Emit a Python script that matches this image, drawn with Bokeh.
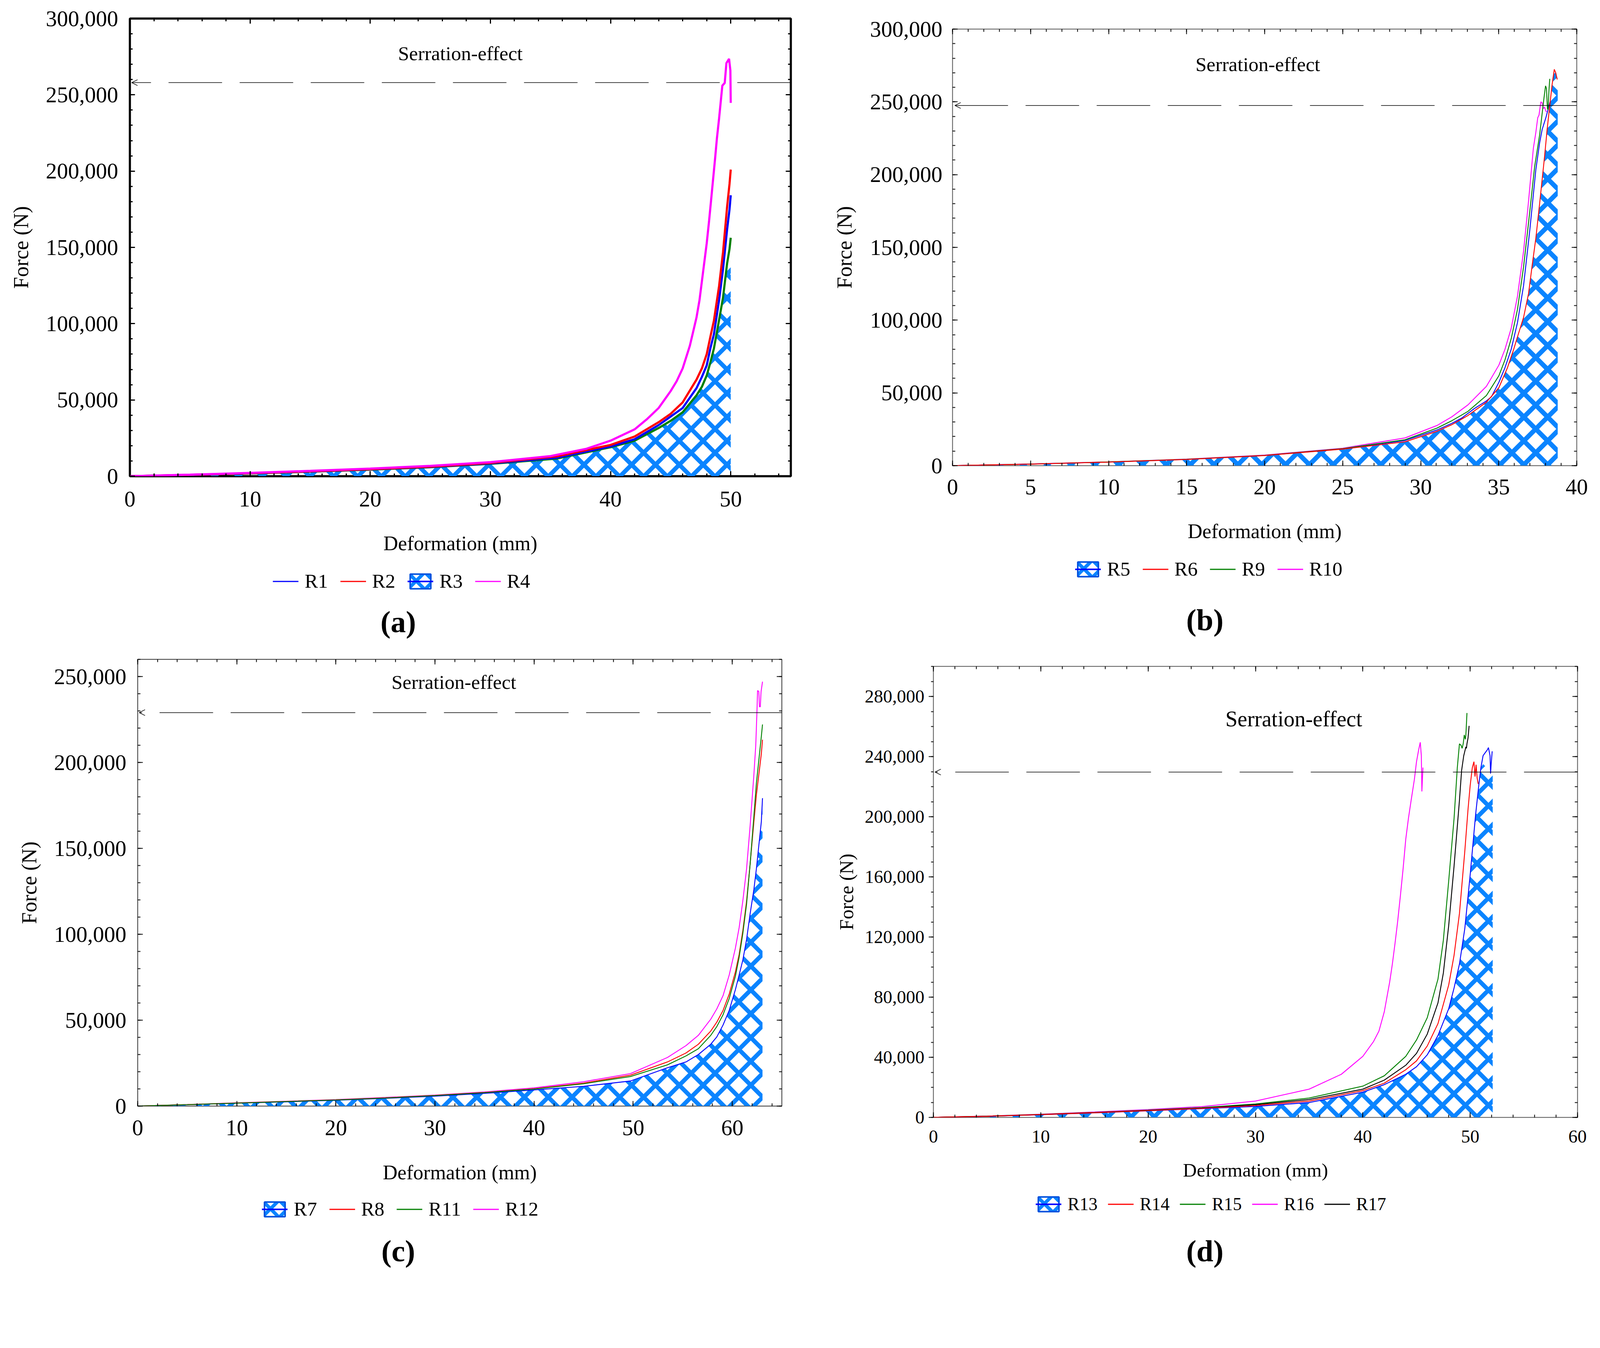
from bokeh.plotting import figure
from bokeh.models import (Range1d, FixedTicker, NumeralTickFormatter, LinearAxis,
                          Legend, LegendItem, Label, Arrow, OpenHead)
from bokeh.layouts import column, row
from bokeh.embed import file_html
from bokeh.resources import INLINE

FONT = "Liberation Serif"
HATCH = "#0A84FF"
BOX = "#0050DD"
BLUE, RED, GREEN, MAGENTA, BLACK = "#0000FF", "#FF0000", "#008000", "#FF00FF", "#000000"
NAN = float("nan")

# ---------------- Panel (a) data ----------------
A_X = [0, 5, 10, 15, 20, 25, 30, 35.5, 40, 42, 44, 45, 46, 47.15, 47.6, 48, 48.3, 48.6, 49.03, 49.36,
       49.7, 49.9, 50.0]
R1_Y = [0, 850, 1900, 3100, 4500, 6100, 8400, 12100, 19500, 24200, 33500, 39100, 44700, 57700, 65100,
        72600, 83700, 93000, 115400, 135900, 161900, 175000, 184200]
R2_Y = [0, 900, 2000, 3200, 4600, 6300, 8700, 13000, 20500, 26000, 35400, 40900, 48400, 63300, 70700,
        80000, 91200, 102000, 124700, 147000, 176800, 191700, 201000]
R3_LINE_Y = [0, 800, 1800, 3000, 4300, 5900, 8100, 11500, 19000, 23300, 31600, 36300, 41900, 53000, 58600,
             66000, 74400, 83700, 102400, 117200, 139600, 149000, 156300]
R3_AREA_Y = [0, 800, 1800, 3000, 4300, 5900, 8100, 11500, 19000, 23300, 31600, 36300, 41900, 53000, 58600,
             66000, 74400, 83700, 102400, 117200, 135000, 140000, 143000]
R4_X = [0, 5, 10, 15, 20, 25, 30, 35, 38, 40, 42, 43, 44, 45, 45.5, 46, 46.6, 47.15, 47.4, 47.7, 48,
        48.2, 48.36, 48.7, 48.85, 49.03, 49.3, 49.5, 49.64, 49.86, 49.97, 50.0]
R4_Y = [0, 1000, 2200, 3500, 5000, 6800, 9200, 13200, 18000, 23300, 30700, 37200, 44700, 55800, 62300,
        70700, 85600, 104000, 115400, 134000, 152600, 167500, 180500, 208400, 221500, 234500, 256000,
        257800, 270800, 273600, 266000, 244700]

# ---------------- Panel (b) data ----------------
R5_X = [0, 5, 10, 15, 20, 25, 29, 30.01, 31.04, 32, 32.63, 33.42, 34.21, 34.53, 35.01, 35.4, 35.8, 36.2,
        36.59, 36.99, 37.38, 37.62, 37.78, 38.02, 38.29]
R5_Y = [0, 1100, 2500, 4300, 7000, 11500, 17300, 20900, 24500, 29100, 32700, 39100, 44500, 47300, 57300,
        67300, 80000, 98200, 123600, 161800, 203600, 221800, 230900, 239100, 250000]
R5_AREA_X = [0, 5, 10, 15, 20, 25, 29, 31.04, 32, 33.03, 34.21, 35.01, 35.56, 35.96, 36.27, 36.59, 36.91,
             37.15, 37.38, 37.62, 37.78, 37.94, 38.1, 38.26, 38.42, 38.56, 38.65, 38.78]
R5_AREA_Y = [0, 1000, 2400, 4200, 6900, 11300, 16300, 23400, 28000, 34300, 43400, 53400, 67000, 79600,
             90500, 101400, 117800, 137800, 156000, 179600, 196000, 212300, 230500, 246000, 261400,
             271800, 269500, 266000]
R6_X = [0, 5, 10, 15, 20, 25, 29, 31.04, 32, 33.03, 34.21, 35.01, 35.56, 35.96, 36.27, 36.59, 36.91,
        37.15, 37.38, 37.62, 37.78, 37.94, 38.1, 38.26, 38.42, 38.56, 38.65, 38.75]
R6_Y = [0, 1050, 2450, 4250, 6950, 11400, 16400, 23600, 28200, 34500, 43600, 53600, 67300, 80000, 90900,
        101800, 118200, 138200, 156400, 180000, 196400, 212700, 230900, 246400, 261800, 272300, 270000,
        265400]
R9_X = [0, 5, 10, 15, 20, 25, 29, 31.04, 32, 33.03, 34.21, 35.01, 35.4, 35.8, 36.2, 36.59, 36.99, 37.3,
        37.46, 37.62, 37.78, 37.9, 38.0, 38.06, 38.12, 38.16, 38.22, 38.27]
R9_Y = [0, 1100, 2550, 4400, 7100, 11700, 17800, 25800, 30900, 37300, 48200, 61800, 72700, 87300, 107300,
        136400, 174500, 205400, 216300, 227200, 241800, 252700, 261000, 259100, 245400, 244600, 258100,
        265800]
R10_X = [0, 5, 10, 15, 20, 25, 29, 31.04, 32, 33.03, 34.21, 35.01, 35.4, 35.8, 36.2, 36.59, 36.91, 37.22,
         37.38, 37.5, 37.58, 37.7, 37.78, 37.86, 37.94, 38.02, 38.08]
R10_Y = [0, 1150, 2600, 4500, 7300, 12000, 19100, 27600, 33600, 41800, 54500, 69100, 80000, 94500,
         116400, 147300, 181800, 218200, 229100, 239100, 240900, 250000, 249400, 245400, 246400, 243600,
         243200]

# ---------------- Panel (c) data ----------------
C_X = [0, 5, 10, 15, 20, 25, 30, 35, 40, 45, 49.72, 53.46, 55.33, 56.58, 57.83, 58.44, 59.07, 59.69,
       60.31, 60.69, 61.06, 61.44, 61.81, 62.18, 62.43, 62.68, 62.93, 63.05]
R7_Y = [0, 800, 1700, 2500, 3400, 4500, 5800, 7400, 9400, 11500, 14600, 22300, 25700, 30000, 36000,
        40300, 47200, 55700, 67700, 76300, 84900, 96900, 112300, 126100, 138000, 151800, 165500, 179200]
R7_AREA_Y = [0, 800, 1700, 2500, 3400, 4500, 5800, 7400, 9400, 11500, 14600, 22300, 25700, 30000, 36000,
             40300, 47200, 55700, 67700, 76300, 84900, 96900, 112300, 126100, 138000, 151000, 163000,
             175800]
R8_Y = [0, 850, 1800, 2700, 3600, 4800, 6200, 7900, 10100, 13400, 18000, 25700, 30900, 36000, 43700,
        48900, 55700, 65200, 78000, 88300, 102000, 119200, 141500, 165500, 181000, 193000, 205000, 213200]
R11_Y = [0, 830, 1750, 2650, 3550, 4700, 6100, 7800, 9900, 13000, 17200, 24000, 29200, 33400, 41200,
         46300, 53200, 62600, 75500, 86600, 100300, 117500, 141500, 168900, 187700, 201400, 215100, 222100]
R12_X = [0, 5, 10, 15, 20, 25, 30, 35, 40, 45, 49.72, 53.46, 55.33, 56.58, 57.83, 58.44, 59.07, 59.69,
         60.31, 60.69, 61.06, 61.44, 61.81, 62.18, 62.37, 62.49, 62.55, 62.68, 62.74, 62.83, 62.9, 63.05]
R12_Y = [0, 900, 1900, 2800, 3800, 5000, 6400, 8200, 10600, 14200, 18900, 28300, 35200, 41200, 50600,
         56600, 64300, 76300, 91800, 103800, 119200, 138000, 163800, 192900, 210100, 229800, 241800,
         241300, 232400, 232400, 241000, 247000]

# ---------------- Panel (d) data ----------------
R13_X = [0, 5, 10, 15, 20, 25, 30, 35, 40, 42, 44, 45, 46, 47, 48, 48.5, 49, 49.5, 50, 50.5, 50.8, 51,
         51.2, 51.4, 51.6, 51.7, 51.85, 51.9, 51.95, 52.05]
R13_Y = [0, 700, 1800, 3000, 4400, 5800, 7300, 9900, 16800, 21800, 28700, 33700, 41600, 54500, 72300,
         86100, 102000, 125700, 161400, 201000, 220800, 232700, 240600, 242600, 244500, 246000, 240600,
         228700, 234600, 243500]
R13_AREA_X = [0, 5, 10, 15, 20, 25, 30, 35, 40, 42, 44, 45, 46, 47, 48, 48.5, 49, 49.5, 50, 50.5, 50.8,
              51, 51.2, 51.5, 51.8, 52.1]
R13_AREA_Y = [0, 700, 1800, 3000, 4400, 5800, 7300, 9900, 16800, 21800, 28700, 33700, 41600, 54500,
              72300, 86100, 102000, 125700, 161400, 201000, 220800, 232700, 235000, 233000, 231000, 229700]
R14_X = [0, 5, 10, 15, 20, 25, 30, 35, 40, 42, 44, 45, 46, 47, 48, 48.5, 49, 49.5, 49.8, 50.0, 50.2,
         50.35, 50.45, 50.55, 50.65, 50.75]
R14_Y = [0, 750, 1850, 3100, 4500, 6000, 7900, 10900, 17800, 22800, 31700, 37600, 47500, 62400, 88100,
         107900, 135600, 177200, 205000, 220800, 232700, 236600, 226700, 234600, 225700, 221800]
R15_X = [0, 5, 10, 15, 20, 25, 30, 35, 40, 42, 44, 45, 46, 47, 47.5, 48, 48.5, 48.8, 49.0, 49.15, 49.25,
         49.35, 49.45, 49.55, 49.6, 49.7]
R15_Y = [0, 800, 2000, 3300, 4800, 6500, 8900, 12900, 20800, 27700, 40600, 51500, 66300, 92000, 117800,
         157400, 199000, 232600, 248500, 247500, 245500, 248500, 254400, 251500, 254400, 269000]
R16_X = [0, 5, 10, 15, 20, 25, 30, 35, 38, 40, 41, 41.5, 42, 42.25, 42.5, 42.75, 43, 43.25, 43.5, 43.75,
         44, 44.25, 44.5, 44.8, 45.0, 45.2, 45.35, 45.45, 45.5, 45.6]
R16_Y = [0, 900, 2100, 3600, 5200, 7200, 10900, 18800, 28700, 40600, 50500, 57400, 70300, 80200, 90000,
         102000, 115800, 130700, 147500, 165300, 185100, 199000, 210900, 224700, 236600, 244500, 249500,
         240600, 216800, 232700]
R17_X = [0, 5, 10, 15, 20, 25, 30, 35, 40, 42, 44, 45, 46, 47, 47.5, 48, 48.5, 49, 49.2, 49.4, 49.6,
         49.65, 49.7, 49.8, 49.9]
R17_Y = [0, 780, 1900, 3200, 4600, 6200, 8500, 11900, 18800, 24800, 34700, 42600, 55400, 76200, 96000,
         127700, 167300, 210900, 230700, 240600, 246500, 245500, 248500, 252400, 260400]

# serration (dashed) levels, annotation anchors (data units) and axis ticks
SERRATION = {"a": 258000, "b": 247500, "c": 229000, "d": 229700}
SERR_TEXT_AT = {"a": (27.5, 277000), "b": (19.56, 275600), "c": (31.9, 246600), "d": (33.57, 265000)}
X_TICKS = {"a": [0, 10, 20, 30, 40, 50], "b": [0, 5, 10, 15, 20, 25, 30, 35, 40],
           "c": [0, 10, 20, 30, 40, 50, 60], "d": [0, 10, 20, 30, 40, 50, 60]}
Y_TICKS = {"a": [0, 50000, 100000, 150000, 200000, 250000, 300000],
           "b": [0, 50000, 100000, 150000, 200000, 250000, 300000],
           "c": [0, 50000, 100000, 150000, 200000, 250000],
           "d": [0, 40000, 80000, 120000, 160000, 200000, 240000, 280000]}

FIG_W = 2040
ROW_H = (1650, 1606)


def make_main(g, series, areas, key):
    fl, fr, ft, fb = g["borders"]
    height = ft + g["frame_h"] + fb
    xmax, ymax = g["xmax"], g["ymax"]
    p = figure(width=FIG_W, height=height, output_backend="svg", toolbar_location=None, title=None,
               x_range=Range1d(0, xmax), y_range=Range1d(0, ymax),
               min_border_left=fl, min_border_right=fr, min_border_top=ft, min_border_bottom=fb,
               x_axis_label="Deformation (mm)", y_axis_label="Force (N)")
    p.grid.visible = False
    p.background_fill_color = "white"
    p.border_fill_color = "white"
    p.outline_line_color = g["outline_color"]
    p.outline_line_width = g["outline_width"]

    xt = FixedTicker(ticks=X_TICKS[key], minor_ticks=g["xminor"])
    yt = FixedTicker(ticks=Y_TICKS[key], minor_ticks=g["yminor"])
    xa, ya = p.xaxis[0], p.yaxis[0]
    xa.ticker = xt
    ya.ticker = yt
    ya.formatter = NumeralTickFormatter(format="0,0")
    for ax in (xa, ya):
        ax.axis_line_color = None
        ax.major_label_text_font = FONT
        ax.major_label_text_font_size = g["tick_fs"]
        ax.major_label_text_color = "black"
        ax.axis_label_text_font = FONT
        ax.axis_label_text_font_style = "normal"
        ax.axis_label_text_color = "black"
        ax.major_tick_in = g["tick_in"]
        ax.major_tick_out = 0
        ax.minor_tick_in = g["minor_in"]
        ax.minor_tick_out = 0
        ax.major_tick_line_width = g["tick_w"]
        ax.minor_tick_line_width = g["tick_w"]
        ax.major_tick_line_color = "black"
        ax.minor_tick_line_color = "black"
    xa.axis_label_text_font_size = g["xlabel_fs"]
    ya.axis_label_text_font_size = g["ylabel_fs"]
    xa.major_label_standoff = g["xtick_so"]
    xa.axis_label_standoff = g["xlab_so"]
    ya.major_label_standoff = g["ytick_so"]
    ya.axis_label_standoff = g["ylab_so"]
    if g.get("left_out"):
        ya.major_tick_in = 0
        ya.major_tick_out = 12
        ya.minor_tick_in = 0
        ya.minor_tick_out = 6

    for loc, tk in (("above", xt), ("right", yt)):
        ax = LinearAxis(ticker=tk, axis_line_color=None, major_label_text_alpha=0,
                        major_label_text_font_size="0px", major_label_standoff=0,
                        major_tick_in=g["tick_in"], major_tick_out=0,
                        minor_tick_in=g["minor_in"], minor_tick_out=0,
                        major_tick_line_width=g["tick_w"], minor_tick_line_width=g["tick_w"])
        p.add_layout(ax, loc)

    for xs, ys in areas:
        p.varea(x=xs, y1=0, y2=ys, fill_color=None, hatch_pattern="x",
                hatch_color=HATCH, hatch_weight=g["hatch_w"], hatch_scale=g["hatch_s"])
    for xs, ys, col in series:
        p.line(xs, ys, line_color=col, line_width=g["line_w"])

    yv = SERRATION[key]
    p.add_layout(Arrow(end=OpenHead(size=15, line_width=1.5, line_color="black"),
                       x_start=xmax, y_start=yv, x_end=0.15, y_end=yv,
                       line_dash="137 45", line_width=1.5, line_color="black"))
    sx, sy = SERR_TEXT_AT[key]
    p.add_layout(Label(x=sx, y=sy, text="Serration-effect",
                       text_align="center", text_baseline="middle", text_font=FONT,
                       text_font_size=g["serr_fs"], text_color="black"))
    return p, height


def make_legend_fig(g, specs, tag, height):
    """Legend strip and panel tag below a panel (legend proxies hold no visible data)."""
    fl, fr, fb = g["borders"][0], g["borders"][1], g["borders"][3]
    fw = FIG_W - fl - fr
    q = figure(width=FIG_W, height=height, output_backend="svg", toolbar_location=None, title=None,
               x_range=Range1d(0, fw), y_range=Range1d(0, height),
               x_axis_location=None, y_axis_location=None,
               min_border_left=fl, min_border_right=fr, min_border_top=0, min_border_bottom=0)
    q.grid.visible = False
    q.outline_line_color = None
    q.background_fill_color = "white"
    q.border_fill_color = "white"
    items = []
    for lab, kind, col in specs:
        if kind == "hatch":
            r1 = q.varea(x=[NAN], y1=[NAN], y2=[NAN], fill_color=None, hatch_pattern="x",
                         hatch_color=HATCH, hatch_weight=9, hatch_scale=44)
            r2 = q.rect(x=[NAN], y=[NAN], width=1, height=1, fill_color=None, line_color=BOX, line_width=4)
            r3 = q.line(x=[NAN], y=[NAN], line_color=BLUE, line_width=4)
            items.append(LegendItem(label=lab, renderers=[r1, r2, r3]))
        else:
            r = q.line(x=[NAN], y=[NAN], line_color=col, line_width=3)
            items.append(LegendItem(label=lab, renderers=[r]))
    leg_top = g["leg_c"] - fb - 24
    leg = Legend(items=items, orientation="horizontal",
                 location=(g["leg_x"], height - leg_top - 48),
                 label_text_font=FONT, label_text_font_size=g["leg_fs"], label_text_color="black",
                 glyph_width=66, glyph_height=47, label_standoff=16, spacing=g["leg_sp"], label_height=48,
                 padding=0, margin=0, border_line_color=None, background_fill_alpha=0)
    q.add_layout(leg, "center")
    q.add_layout(Label(x=g["tag_x"], y=height - (g["tag_c"] - fb), text=tag,
                       text_align="center", text_baseline="middle", text_font=FONT,
                       text_font_style="bold", text_font_size="78px", text_color="black"))
    return q


common = dict(tick_fs="57px", xlabel_fs="52px", ylabel_fs="54px", serr_fs="51px", leg_fs="51px", leg_sp=31,
              tick_in=13, minor_in=7, tick_w=2, line_w=2.3, hatch_w=11, hatch_s=61)

GA = dict(common, row=0, borders=(332, 16, 47, 225), frame_h=1172, xmax=55, ymax=300000,
          xminor=list(range(0, 56, 2)), yminor=list(range(0, 300001, 10000)),
          outline_color="black", outline_width=5.5, tick_w=3, line_w=5.5,
          xtick_so=39, xlab_so=63, ytick_so=30, ylab_so=30,
          leg_x=366, leg_c=274, tag_x=687, tag_c=373)
GB = dict(common, row=0, borders=(398, 44, 74, 225), frame_h=1118, xmax=40, ymax=300000,
          xminor=list(range(0, 41, 1)), yminor=list(range(0, 300001, 10000)),
          outline_color="#555555", outline_width=2, hatch_w=12,
          xtick_so=35, xlab_so=63, ytick_so=26, ylab_so=32,
          leg_x=314, leg_c=270, tag_x=646, tag_c=395)
GC = dict(common, row=1, borders=(352, 39, 38, 225), frame_h=1144, xmax=65, ymax=260000,
          xminor=list(range(0, 66, 2)), yminor=list(range(0, 260001, 10000)),
          outline_color="#333333", outline_width=2,
          xtick_so=36, xlab_so=64, ytick_so=29, ylab_so=30,
          leg_x=318, leg_c=269, tag_x=667, tag_c=371)
GD = dict(common, row=1, borders=(349, 42, 56, 172), frame_h=1155, xmax=60, ymax=300000,
          xminor=list(range(0, 61, 2)), yminor=list(range(0, 300001, 10000)),
          outline_color="#555555", outline_width=2, tick_fs="47px", xlabel_fs="49px", ylabel_fs="50px",
          serr_fs="56px", leg_fs="46px", leg_sp=26, left_out=True, hatch_s=59,
          xtick_so=33, xlab_so=40, ytick_so=11, ylab_so=16,
          leg_x=262, leg_c=225, tag_x=695, tag_c=342)


def panel(g, series, areas, specs, tag, key):
    main, h = make_main(g, series, areas, key)
    strip = make_legend_fig(g, specs, tag, ROW_H[g["row"]] - h)
    return column(main, strip)


cell_a = panel(GA,
               [(A_X, R3_LINE_Y, GREEN), (A_X, R1_Y, BLUE), (A_X, R2_Y, RED), (R4_X, R4_Y, MAGENTA)],
               [(A_X, R3_AREA_Y)],
               [("R1", "line", BLUE), ("R2", "line", RED), ("R3", "hatch", None), ("R4", "line", MAGENTA)],
               "(a)", "a")
cell_b = panel(GB,
               [(R5_X, R5_Y, BLUE), (R10_X, R10_Y, MAGENTA), (R9_X, R9_Y, GREEN), (R6_X, R6_Y, RED)],
               [(R5_AREA_X, R5_AREA_Y)],
               [("R5", "hatch", None), ("R6", "line", RED), ("R9", "line", GREEN), ("R10", "line", MAGENTA)],
               "(b)", "b")
cell_c = panel(GC,
               [(C_X, R7_Y, BLUE), (R12_X, R12_Y, MAGENTA), (C_X, R8_Y, RED), (C_X, R11_Y, GREEN)],
               [(C_X, R7_AREA_Y)],
               [("R7", "hatch", None), ("R8", "line", RED), ("R11", "line", GREEN), ("R12", "line", MAGENTA)],
               "(c)", "c")
cell_d = panel(GD,
               [(R13_X, R13_Y, BLUE), (R16_X, R16_Y, MAGENTA), (R15_X, R15_Y, GREEN), (R17_X, R17_Y, BLACK),
                (R14_X, R14_Y, RED)],
               [(R13_AREA_X, R13_AREA_Y)],
               [("R13", "hatch", None), ("R14", "line", RED), ("R15", "line", GREEN), ("R16", "line", MAGENTA),
                ("R17", "line", BLACK)],
               "(d)", "d")

layout = column(row(cell_a, cell_b), row(cell_c, cell_d))
open("out.html", "w").write(file_html(layout, INLINE))
